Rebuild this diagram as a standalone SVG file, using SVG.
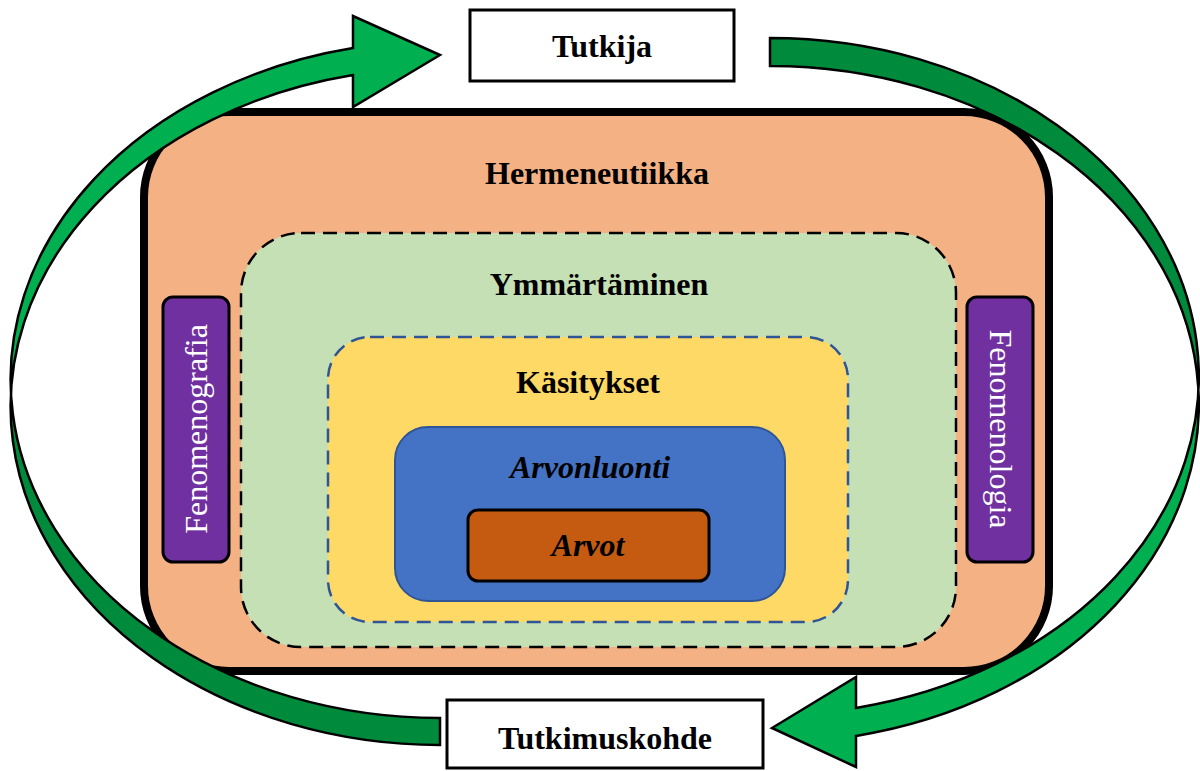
<svg xmlns="http://www.w3.org/2000/svg" width="1200" height="771" viewBox="0 0 1200 771">
  <style>
    .lbl { font-family: "Liberation Serif", "Times New Roman", serif; font-size: 32px; font-weight: bold; fill: #000; text-anchor: middle; }
    .it { font-style: italic; }
    .side { font-family: "Liberation Serif", "Times New Roman", serif; font-size: 32px; fill: #fff; text-anchor: middle; }
    .dash { stroke-width: 2.5; stroke-dasharray: 14 8; }
    .arrow { stroke: #000; stroke-width: 2.5; stroke-linejoin: miter; }
  </style>
  <defs>
    <!-- head end bright, tail end darker -->
    <linearGradient id="gDown" x1="0" y1="0" x2="0" y2="1">
      <stop offset="0.49" stop-color="#00B050"/>
      <stop offset="0.55" stop-color="#008A3C"/>
    </linearGradient>
    <linearGradient id="gUp" x1="0" y1="0" x2="0" y2="1">
      <stop offset="0.45" stop-color="#008A3C"/>
      <stop offset="0.51" stop-color="#00B050"/>
    </linearGradient>
  </defs>

  <rect width="1200" height="771" fill="#fff"/>

  <!-- nested frames -->
  <g id="hermeneutiikka">
    <rect x="144" y="112" width="905" height="559" rx="85" fill="#F4B183" stroke="#000" stroke-width="8"/>
    <text class="lbl" x="597" y="184">Hermeneutiikka</text>
  </g>
  <g id="ymmartaminen">
    <rect x="241" y="233" width="715" height="414" rx="60" fill="#C5E0B4" stroke="#000" class="dash"/>
    <text class="lbl" x="599" y="295">Ymmärtäminen</text>
  </g>
  <g id="kasitykset">
    <rect x="328" y="337" width="520" height="285" rx="42" fill="#FFD966" stroke="#2F5597" class="dash"/>
    <text class="lbl" x="588" y="393">Käsitykset</text>
  </g>
  <g id="arvonluonti">
    <rect x="395" y="427" width="390" height="174" rx="33" fill="#4472C4" stroke="#2F5597" stroke-width="2"/>
    <text class="lbl it" x="590" y="478">Arvonluonti</text>
  </g>
  <g id="arvot">
    <rect x="468" y="510" width="241" height="71" rx="10" fill="#C55A11" stroke="#000" stroke-width="3"/>
    <text class="lbl it" x="588" y="556">Arvot</text>
  </g>
  <g id="fenomenografia">
    <rect x="163" y="297" width="66" height="265" rx="10" fill="#7030A0" stroke="#000" stroke-width="3"/>
    <text class="side" transform="translate(207 429) rotate(-90)">Fenomenografia</text>
  </g>
  <g id="fenomenologia">
    <rect x="967" y="297" width="66" height="265" rx="10" fill="#7030A0" stroke="#000" stroke-width="3"/>
    <text class="side" transform="translate(990 429) rotate(90)">Fenomenologia</text>
  </g>

  <!-- end boxes -->
  <g id="tutkija">
    <rect x="470" y="10" width="264" height="71" fill="#fff" stroke="#000" stroke-width="3"/>
    <text class="lbl" x="602" y="57">Tutkija</text>
  </g>
  <g id="tutkimuskohde">
    <rect x="447" y="700" width="316" height="68" fill="#fff" stroke="#000" stroke-width="3"/>
    <text class="lbl" x="605" y="749">Tutkimuskohde</text>
  </g>

  <!-- curved cycle arrows: each band is bounded by two equal ellipses offset vertically -->
  <g id="connectors">
    <path class="arrow" fill="url(#gDown)" d="M440,745 A430,338.5 0 0 1 353,75.1 L353,107 L440,55 L353,16 L353,48.1 A430,338.5 0 0 0 440,718 Z"/>
    <path class="arrow" fill="url(#gUp)" d="M770,38 A429,338.4 0 0 1 856,707.9 L856,677 L772,728 L856,767 L856,735.9 A429,338.4 0 0 0 770,66 Z"/>
  </g>
</svg>
